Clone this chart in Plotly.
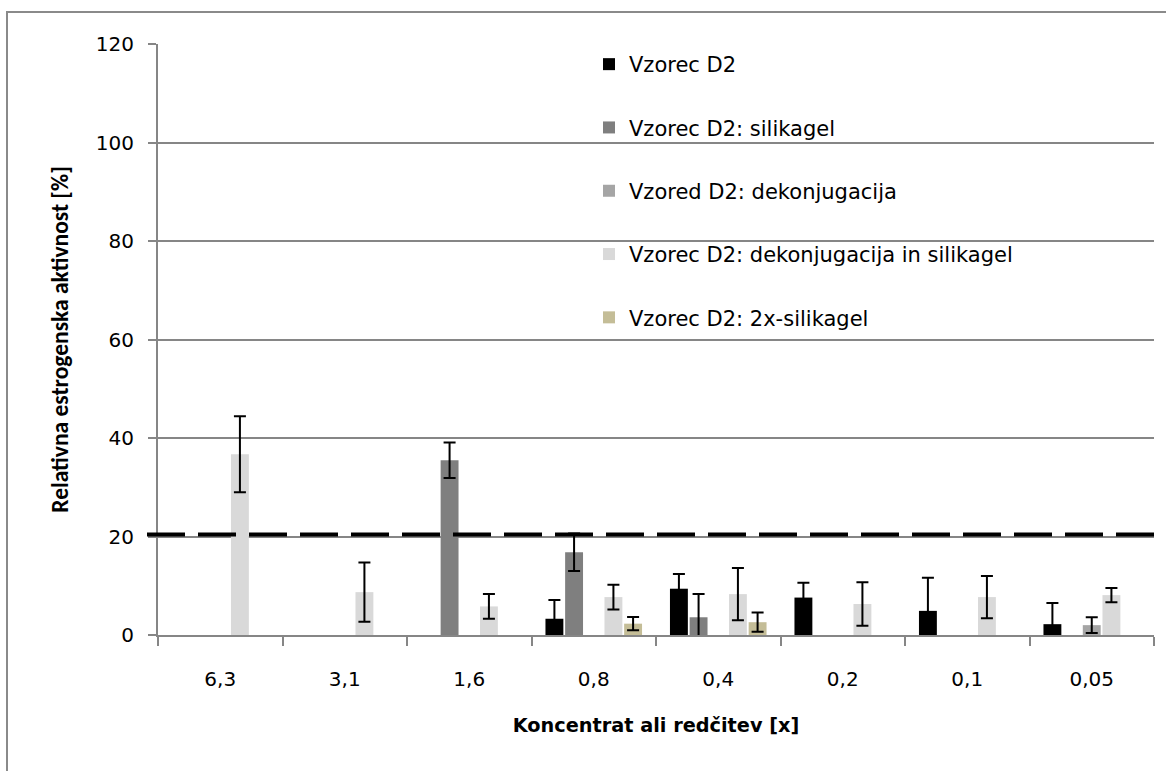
import plotly.graph_objects as go

# --- data -------------------------------------------------------------
categories = ["6,3", "3,1", "1,6", "0,8", "0,4", "0,2", "0,1", "0,05"]

series_names = [
    "Vzorec D2",
    "Vzorec D2: silikagel",
    "Vzored D2: dekonjugacija",
    "Vzorec D2: dekonjugacija in silikagel",
    "Vzorec D2: 2x-silikagel",
]

vzorec_d2 = [None, None, None, 3.3, 9.4, 7.6, 4.9, 2.2]
vzorec_d2_err = [None, None, None, 3.8, 3.0, 3.0, 6.7, 4.3]

silikagel = [None, None, 35.5, 16.8, 3.6, None, None, None]
silikagel_err = [None, None, 3.6, 3.8, 4.7, None, None, None]

dekonjugacija = [None, None, None, None, None, None, None, 2.0]
dekonjugacija_err = [None, None, None, None, None, None, None, 1.6]

dekonj_silikagel = [36.7, 8.7, 5.8, 7.7, 8.3, 6.3, 7.7, 8.1]
dekonj_silikagel_err = [7.7, 6.0, 2.5, 2.5, 5.3, 4.4, 4.3, 1.45]

silikagel_2x = [None, None, None, 2.3, 2.6, None, None, None]
silikagel_2x_err = [None, None, None, 1.35, 1.95, None, None, None]

threshold = 20.4          # dashed reference level
y_max = 120
y_ticks = [0, 20, 40, 60, 80, 100, 120]

# --- styling ------------------------------------------------------------
colors = ["#000000", "#7F7F7F", "#A5A5A5", "#D9D9D9", "#C4BD97"]
values = [vzorec_d2, silikagel, dekonjugacija, dekonj_silikagel, silikagel_2x]
errors = [vzorec_d2_err, silikagel_err, dekonjugacija_err,
          dekonj_silikagel_err, silikagel_2x_err]

W, H = 1166, 771
M_L, M_R, M_T, M_B = 158, 12, 44, 136
PW, PH = W - M_L - M_R, H - M_T - M_B
AXIS_GREY = "#868686"
WIDE = "DejaVu Sans, Verdana, sans-serif"
NARROW = "Calibri, Carlito, Lato, sans-serif"


def px_x(px):
    return (px - M_L) / PW


def px_y(py):
    return (H - M_B - py) / PH


fig = go.Figure()
for name, vals, errs, col in zip(series_names, values, errors, colors):
    fig.add_trace(go.Bar(
        x=categories,
        y=vals,
        name=name,
        legendgroup=name,
        marker=dict(color=col, line=dict(width=0)),
        error_y=dict(type="data", array=errs, visible=True,
                     color="#000000", thickness=2, width=6),
    ))

fig.update_layout(
    width=W, height=H,
    margin=dict(l=M_L, r=M_R, t=M_T, b=M_B, autoexpand=False),
    paper_bgcolor="white", plot_bgcolor="white",
    barmode="group", bargap=0.21, bargroupgap=0.09,
    font=dict(family=WIDE, color="#000000", size=20),
    showlegend=True,
    legend=dict(
        x=px_x(589), y=px_y(44), xanchor="left", yanchor="top",
        bgcolor="rgba(0,0,0,0)", font=dict(size=21, family=WIDE),
        tracegroupgap=33, traceorder="grouped",
    ),
    xaxis=dict(
        type="category", showline=True, linecolor=AXIS_GREY, linewidth=2,
        ticks="outside", tickson="boundaries", ticklen=9, tickcolor=AXIS_GREY,
        tickwidth=1.5, showgrid=False, ticklabelstandoff=25,
        tickfont=dict(size=20, family=WIDE),
        title=dict(text="<b>Koncentrat ali redčitev [x]</b>", standoff=28,
                   font=dict(size=19.3, family=WIDE)),
    ),
    yaxis=dict(
        range=[0, y_max], tickvals=y_ticks, showline=True, linecolor=AXIS_GREY,
        linewidth=2, ticks="outside", ticklen=8, tickcolor=AXIS_GREY,
        tickwidth=1.5, showgrid=True, gridcolor=AXIS_GREY, gridwidth=1.5,
        zeroline=False, ticklabelstandoff=10,
        tickfont=dict(size=20, family=WIDE),
        title=dict(text="<b>Relativna estrogenska aktivnost [%]</b>", standoff=21,
                   font=dict(size=23.5, family=NARROW)),
    ),
    shapes=[
        # dashed reference level
        dict(type="line", xref="paper", yref="paper",
             x0=px_x(147), x1=px_x(1155),
             y0=threshold / y_max, y1=threshold / y_max,
             line=dict(color="#000000", width=4, dash="38px,13px")),
        # chart frame
        dict(type="rect", xref="paper", yref="paper",
             x0=px_x(7), x1=px_x(1175), y0=px_y(785), y1=px_y(12),
             line=dict(color="#8A8A8A", width=2), layer="below"),
    ],
)

fig.write_html("out.html")
